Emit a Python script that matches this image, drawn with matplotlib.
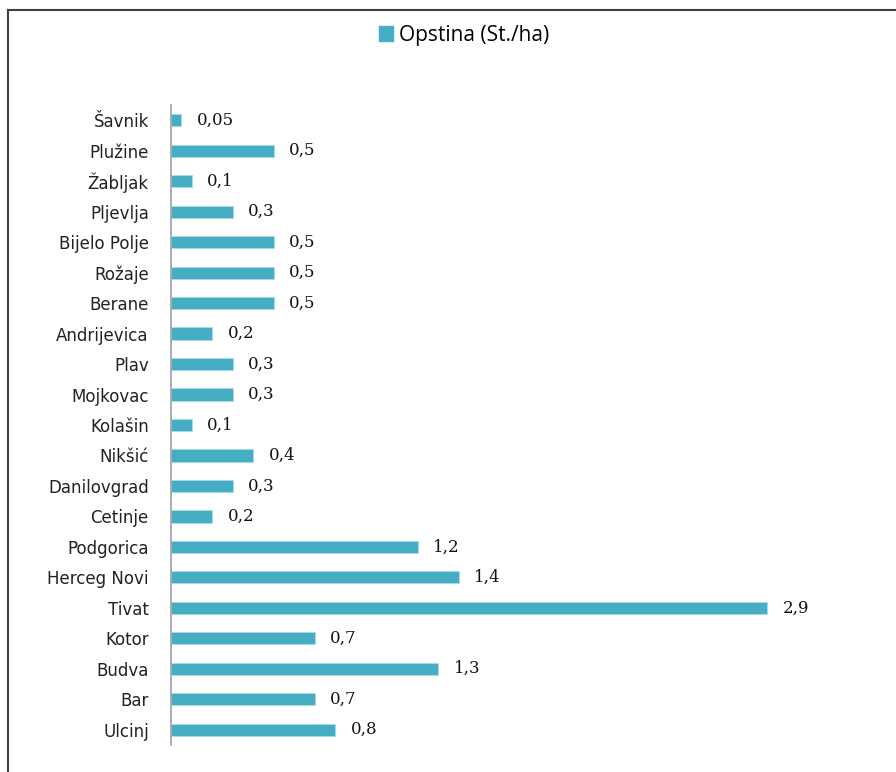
import matplotlib.pyplot as plt
from matplotlib.lines import Line2D
from matplotlib.patches import Patch

opstine = ['Šavnik', 'Plužine', 'Žabljak', 'Pljevlja', 'Bijelo Polje', 'Rožaje',
           'Berane', 'Andrijevica', 'Plav', 'Mojkovac', 'Kolašin', 'Nikšić',
           'Danilovgrad', 'Cetinje', 'Podgorica', 'Herceg Novi', 'Tivat',
           'Kotor', 'Budva', 'Bar', 'Ulcinj']
vrijednosti = [0.05, 0.5, 0.1, 0.3, 0.5, 0.5, 0.5, 0.2, 0.3, 0.3, 0.1, 0.4,
               0.3, 0.2, 1.2, 1.4, 2.9, 0.7, 1.3, 0.7, 0.8]
legenda = 'Opstina (St./ha)'

boja = '#45adc4'

fig = plt.figure(figsize=(8.96, 7.72), dpi=100)
ax = fig.add_axes([171 / 896, 1 - 745 / 772, (860 - 171) / 896, 640 / 772])

ind = list(range(len(opstine)))
ax.barh(ind, vrijednosti, height=0.4, color=boja, edgecolor='#a8dbe6', linewidth=0.6)

ax.set_ylim(20.5, -0.5)
ax.set_xlim(0, (860 - 171) / 205.5)
ax.set_yticks(ind)
ax.set_yticklabels(opstine, fontsize=12, family='DejaVu Sans', color='#222222')
ax.tick_params(axis='y', length=0, pad=16)
ax.set_xticks([])

for s in ['top', 'right', 'bottom']:
    ax.spines[s].set_visible(False)
ax.spines['left'].set_color('#a0a0a0')
ax.spines['left'].set_linewidth(1.2)

for i, v in enumerate(vrijednosti):
    ax.text(v + 0.075, i, ('%g' % v).replace('.', ','), va='center', ha='left',
            fontsize=12, family='DejaVu Serif', color='#111111')

fig.legend([Patch(color=boja)], [legenda], loc='center', bbox_to_anchor=(0.518, 1 - 35 / 772),
           frameon=False, handlelength=0.7, handleheight=0.7,
           handletextpad=0.3, prop={'family': 'Open Sans', 'size': 15})

# okvir oko grafikona
fig.add_artist(Line2D([8 / 896, 8 / 896], [0, 1 - 10 / 772], transform=fig.transFigure,
                      color='#404040', linewidth=1.5))
fig.add_artist(Line2D([8 / 896, 1], [1 - 10 / 772, 1 - 10 / 772], transform=fig.transFigure,
                      color='#404040', linewidth=1.5))

fig.savefig('out.png', dpi=100)
